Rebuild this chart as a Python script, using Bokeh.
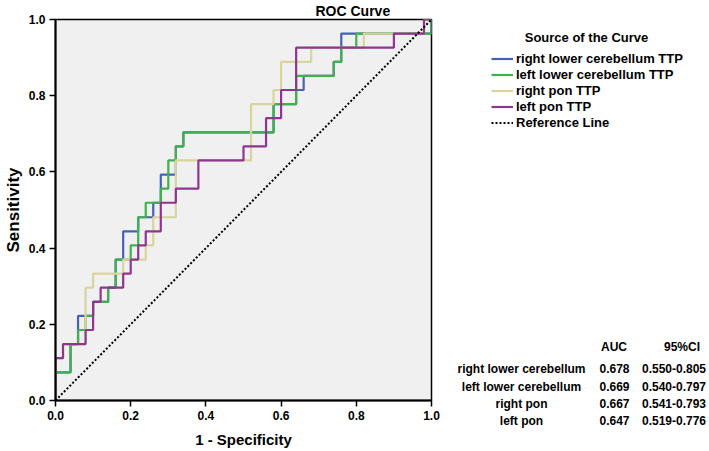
from bokeh.plotting import figure
from bokeh.layouts import row
from bokeh.models import Label, Legend, LegendItem, FixedTicker, Range1d
from bokeh.embed import file_html
from bokeh.resources import INLINE

# ---------------- data ----------------
# right lower cerebellum TTP
rlc_fpr = [0, 0, .04, .04, .06, .06, .10, .10, .14, .14, .16, .16, .18, .18, .22, .22, .26, .26,
           .28, .28, .32, .32, .34, .34, .58, .58, .64, .64, .66, .66, .74, .74, .76, .76, 1.0, 1.0]
rlc_tpr = [0, .074, .074, .148, .148, .222, .222, .259, .259, .296, .296, .370, .370, .444, .444, .481, .481, .519,
           .519, .593, .593, .667, .667, .704, .704, .778, .778, .815, .815, .852, .852, .889, .889, .963, .963, 1.0]
# left lower cerebellum TTP
llc_fpr = [0, 0, .04, .04, .06, .06, .08, .08, .10, .10, .14, .14, .16, .16, .20, .20, .22, .22, .24, .24,
           .28, .28, .30, .30, .32, .32, .34, .34, .58, .58, .64, .64, .74, .74, .76, .76, .80, .80, 1.0, 1.0]
llc_tpr = [0, .074, .074, .148, .148, .185, .185, .222, .222, .259, .259, .296, .296, .370, .370, .407, .407, .481, .481, .519,
           .519, .556, .556, .630, .630, .667, .667, .704, .704, .778, .778, .852, .852, .889, .889, .926, .926, .963, .963, 1.0]
# right pon TTP
rp_fpr = [0, 0, .02, .02, .08, .08, .10, .10, .18, .18, .24, .24, .26, .26, .32, .32, .52, .52, .58, .58,
          .60, .60, .68, .68, .82, .82, .98, .98, 1.0]
rp_tpr = [0, .111, .111, .148, .148, .296, .296, .333, .333, .370, .370, .407, .407, .481, .481, .630, .630, .778, .778, .815,
          .815, .889, .889, .926, .926, .963, .963, 1.0, 1.0]
# left pon TTP
lp_fpr = [0, 0, .02, .02, .08, .08, .10, .10, .12, .12, .18, .18, .20, .20, .22, .22, .24, .24, .28, .28,
          .32, .32, .38, .38, .50, .50, .56, .56, .60, .60, .64, .64, .90, .90, .98, .98, 1.0]
lp_tpr = [0, .111, .111, .148, .148, .185, .185, .259, .259, .296, .296, .333, .333, .370, .370, .407, .407, .444, .444, .519,
          .519, .556, .556, .630, .630, .667, .667, .741, .741, .815, .815, .926, .926, .963, .963, 1.0, 1.0]
ref_x = [0, 1]
ref_y = [0, 1]

series_names = ["right lower cerebellum TTP", "left lower cerebellum TTP", "right pon TTP", "left pon TTP"]
series_colors = ["#4560b8", "#3fb24c", "#d8d49e", "#8e358e"]

ticks = [0.0, 0.2, 0.4, 0.6, 0.8, 1.0]

table_header = ["AUC", "95%CI"]
table_names = ["right lower cerebellum", "left lower cerebellum", "right pon", "left pon"]
table_auc = ["0.678", "0.669", "0.667", "0.647"]
table_ci = ["0.550-0.805", "0.540-0.797", "0.541-0.793", "0.519-0.776"]

FONT = "Liberation Sans"
W, H = 709, 451
W1 = 440

# ---------------- main ROC figure ----------------
p = figure(width=W1, height=H, x_range=Range1d(0, 1), y_range=Range1d(0, 1),
           output_backend="svg", toolbar_location=None,
           min_border_left=50, min_border_right=W1 - 431, min_border_top=19, min_border_bottom=51)
p.background_fill_color = "#f0f0f0"
p.border_fill_color = "white"
p.outline_line_color = "black"
p.outline_line_width = 1.5
p.grid.visible = False

p.title.text = "ROC Curve"
p.title.align = "left"
p.title.offset = 260
p.title.standoff = 0
p.title.vertical_align = "middle"
p.title.text_font = FONT
p.title.text_font_size = "14px"
p.title.text_font_style = "bold"
p.title.text_color = "black"

for ax in (p.xaxis[0], p.yaxis[0]):
    ax.ticker = FixedTicker(ticks=ticks)
    ax.axis_line_color = "black"
    ax.axis_line_width = 2
    ax.major_tick_line_color = "black"
    ax.major_tick_line_width = 1.5
    ax.major_tick_out = 6
    ax.major_tick_in = 0
    ax.minor_tick_out = 0
    ax.minor_tick_in = 0
    ax.major_label_standoff = 4
    ax.major_label_text_font = FONT
    ax.major_label_text_font_size = "12px"
    ax.major_label_text_font_style = "bold"
    ax.major_label_text_color = "black"
    ax.axis_label_text_font = FONT
    ax.axis_label_text_font_style = "bold"
    ax.axis_label_text_color = "black"
p.xaxis[0].axis_label_text_font_size = "15px"
p.yaxis[0].axis_label_text_font_size = "17px"
p.xaxis[0].axis_label_standoff = 8
p.yaxis[0].axis_label_standoff = 3
p.xaxis[0].axis_label = "1 - Specificity"
p.yaxis[0].axis_label = "Sensitivity"
p.xaxis[0].major_label_overrides = {t: f"{t:.1f}" for t in ticks}
p.yaxis[0].major_label_overrides = {t: f"{t:.1f}" for t in ticks}

curves = [(rlc_fpr, rlc_tpr), (llc_fpr, llc_tpr), (rp_fpr, rp_tpr), (lp_fpr, lp_tpr)]
for (xs, ys), col in zip(curves, series_colors):
    p.line(xs, ys, line_color=col, line_width=2.2)
p.line(ref_x, ref_y, line_color="black", line_width=2, line_dash="2 2")

# ---------------- side panel: legend + AUC table ----------------
# panel units are pixels, shifted by OFF so that the ROC data (0..1) falls outside
# the visible window: the series are drawn here only to feed the legend samples.
OFF = 100
q = figure(width=W - W1, height=H, x_range=Range1d(OFF, OFF + W - W1), y_range=Range1d(OFF + H, OFF),
           output_backend="svg", toolbar_location=None,
           x_axis_location=None, y_axis_location=None,
           min_border_left=0, min_border_right=0, min_border_top=0, min_border_bottom=0)
for fig in (p, q):
    if "frame_align" in fig.properties():
        fig.frame_align = False
q.grid.visible = False
q.outline_line_color = None
q.background_fill_color = "white"
q.border_fill_color = "white"

items = []
for (xs, ys), name, col in zip(curves, series_names, series_colors):
    r = q.line(xs, ys, line_color=col, line_width=2.2)
    items.append(LegendItem(label=name, renderers=[r]))
rr = q.line(ref_x, ref_y, line_color="black", line_width=2, line_dash="2 2")
items.append(LegendItem(label="Reference Line", renderers=[rr]))

legend = Legend(items=items, location="top_left", orientation="vertical",
                glyph_width=22, glyph_height=15, label_height=15, spacing=1,
                padding=0, margin=51, label_standoff=3,
                border_line_alpha=0, background_fill_alpha=0,
                label_text_font=FONT, label_text_font_size="13px",
                label_text_font_style="bold", label_text_color="black")
q.add_layout(legend)

def add_label(px, py, text, size="12px"):
    # px: pixels from the panel's left edge, py: pixels from the top
    q.add_layout(Label(x=OFF + px, y=OFF + py, text=text, text_font=FONT, text_font_size=size,
                       text_font_style="bold", text_color="black",
                       text_align="center", text_baseline="middle"))

add_label(146, 37, "Source of the Curve", size="13px")
add_label(173.5, 346, table_header[0])
add_label(241.5, 346, table_header[1])
row_y = [368, 386, 403, 420]
for name, auc, ci, yy in zip(table_names, table_auc, table_ci, row_y):
    add_label(81, yy, name)
    add_label(174, yy, auc)
    add_label(233.5, yy, ci)

layout = row(p, q)
open("out.html", "w").write(file_html(layout, INLINE))
